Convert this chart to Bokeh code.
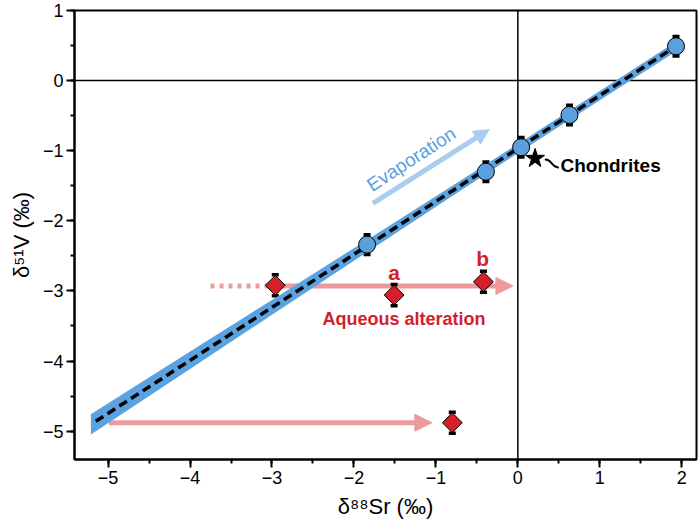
from bokeh.plotting import figure
from bokeh.models import (ColumnDataSource, Whisker, TeeHead, Arrow, NormalHead, Span,
                          FixedTicker, Range1d, Label, CustomJSTickFormatter)
from bokeh.embed import file_html
from bokeh.resources import INLINE

# ---------------- data ----------------
evap_sr = [-1.84, -0.39, 0.04, 0.63, 1.93]
evap_v = [-2.34, -1.30, -0.95, -0.49, 0.49]
evap_err = [0.14, 0.14, 0.14, 0.14, 0.14]

alt_sr = [-2.96, -1.51, -0.42, -0.80]
alt_v = [-2.92, -3.06, -2.87, -4.88]
alt_err = [0.15, 0.15, 0.15, 0.15]

chondrite_sr = [0.21]
chondrite_v = [-1.11]

fit_sr = [-5.15, 1.93]
fit_v = [-4.86, 0.49]

band_sr = [-5.21, -4.0, -3.0, -2.0, -1.0, 0.0, 1.0, 1.97]
band_lo = [-5.05, -4.115, -3.34, -2.57, -1.80, -1.035, -0.28, 0.447]
band_hi = [-4.76, -3.865, -3.13, -2.39, -1.65, -0.905, -0.15, 0.587]

# arrows: (x_start, y_start, x_end, y_end)
aq_dotted = (-3.75, -2.93, -2.96, -2.93)
aq_solid = (-2.96, -2.93, -0.06, -2.93)
aq_lower = (-4.99, -4.88, -1.05, -4.88)
evap_arrow = (-1.77, -1.75, -0.35, -0.70)

x_ticks = [-5, -4, -3, -2, -1, 0, 1, 2]
y_ticks = [-5, -4, -3, -2, -1, 0, 1]
x_minor = [-5.5, -5, -4.5, -4, -3.5, -3, -2.5, -2, -1.5, -1, -0.5, 0, 0.5, 1, 1.5, 2]
y_minor = [-5.5, -5, -4.5, -4, -3.5, -3, -2.5, -2, -1.5, -1, -0.5, 0, 0.5, 1]

# colours
BLUE = "#5AA2E0"
BLUE_PT = "#5B9FDD"
LIGHT_BLUE = "#A8CDEF"
PINK = "#EC9A9C"
RED = "#D3202A"
FONT = "Liberation Sans"

p = figure(width=700, height=521, output_backend="svg", toolbar_location=None,
           x_range=Range1d(-5.41, 2.18), y_range=Range1d(-5.405, 1.0),
           min_border_left=74, min_border_right=4, min_border_top=10, min_border_bottom=59)
p.grid.visible = False
p.outline_line_color = "black"
p.outline_line_width = 2
p.outline_line_alpha = 1
p.background_fill_color = "white"
p.border_fill_color = "white"

fmt = CustomJSTickFormatter(code="return tick < 0 ? '\u2212' + Math.abs(tick) : tick.toString();")
for ax, ticks, minor in ((p.xaxis, x_ticks, x_minor), (p.yaxis, y_ticks, y_minor)):
    ax.ticker = FixedTicker(ticks=ticks, minor_ticks=minor)
    ax.formatter = fmt
    ax.axis_line_width = 2
    ax.major_tick_line_width = 2
    ax.minor_tick_line_width = 2
    ax.major_tick_out = 8
    ax.major_tick_in = 0
    ax.minor_tick_out = 4
    ax.minor_tick_in = 0
    ax.major_label_text_font = FONT
    ax.major_label_text_font_size = "18px"
    ax.major_label_text_color = "black"
    ax.axis_label_text_font = FONT
    ax.axis_label_text_font_size = "22px"
    ax.axis_label_text_font_style = "normal"
    ax.axis_label_text_color = "black"
    ax.major_label_standoff = 3

p.xaxis.axis_label = "δ⁸⁸Sr (‰)"
p.yaxis.axis_label = "δ⁵¹V (‰)"
p.xaxis.axis_label_standoff = 7
p.yaxis.axis_label_standoff = 6

# zero lines
p.add_layout(Span(location=0, dimension="height", line_color="black", line_width=1.5, level="underlay"))
p.add_layout(Span(location=0, dimension="width", line_color="black", line_width=1.5, level="underlay"))

# aqueous alteration arrows
dx0, dy0, dx1, dy1 = aq_dotted
p.add_layout(Arrow(x_start=dx0, y_start=dy0, x_end=dx1, y_end=dy1, end=None,
                   line_color=PINK, line_width=5, line_dash="4 5", level="underlay"))
for (sx0, sy0, sx1, sy1) in (aq_solid, aq_lower):
    p.add_layout(Arrow(x_start=sx0, y_start=sy0, x_end=sx1, y_end=sy1,
                       end=NormalHead(size=17, fill_color=PINK, line_color=PINK, line_width=1),
                       line_color=PINK, line_width=5, level="underlay"))

# evaporation arrow
ex0, ey0, ex1, ey1 = evap_arrow
p.add_layout(Arrow(x_start=ex0, y_start=ey0, x_end=ex1, y_end=ey1,
                   end=NormalHead(size=15, fill_color=LIGHT_BLUE, line_color=LIGHT_BLUE, line_width=1),
                   line_color=LIGHT_BLUE, line_width=5))

# error bars
evap_src = ColumnDataSource(dict(x=evap_sr, y=evap_v,
                                 lo=[v - e for v, e in zip(evap_v, evap_err)],
                                 hi=[v + e for v, e in zip(evap_v, evap_err)]))
alt_src = ColumnDataSource(dict(x=alt_sr, y=alt_v,
                                lo=[v - e for v, e in zip(alt_v, alt_err)],
                                hi=[v + e for v, e in zip(alt_v, alt_err)]))
for src in (evap_src, alt_src):
    p.add_layout(Whisker(source=src, base="x", lower="lo", upper="hi", dimension="height",
                         line_color="black", line_width=2,
                         upper_head=TeeHead(size=7, line_width=3.5, line_color="black"),
                         lower_head=TeeHead(size=7, line_width=3.5, line_color="black"),
                         level="underlay"))

# confidence band and fit line
p.varea(x=band_sr, y1=band_lo, y2=band_hi, fill_color=BLUE, fill_alpha=1)
p.line(x=fit_sr, y=fit_v, line_color="black", line_width=3.5, line_dash="9 5")

# points
p.scatter(x="x", y="y", source=evap_src, marker="circle", size=17,
          fill_color=BLUE_PT, line_color="black", line_width=1)
p.scatter(x="x", y="y", source=alt_src, marker="square", size=14, angle=45, angle_units="deg",
          fill_color=RED, line_color="black", line_width=1)
p.scatter(x=chondrite_sr, y=chondrite_v, marker="star", size=20, fill_color="black", line_color="black")

# chondrite leader line
p.bezier(x0=[0.33], y0=[-1.13], x1=[0.50], y1=[-1.237], cx0=[0.40], cy0=[-1.10],
         cx1=[0.42], cy1=[-1.255], line_color="black", line_width=2)

# labels
p.add_layout(Label(x=0.52, y=-1.213, text="Chondrites", text_font=FONT, text_font_size="19px",
                   text_font_style="bold", text_color="black", text_align="left", text_baseline="middle"))
p.add_layout(Label(x=-1.30, y=-1.12, text="Evaporation", text_font=FONT, text_font_size="19px",
                   text_color=BLUE_PT, text_align="center", text_baseline="middle",
                   angle=33, angle_units="deg"))
p.add_layout(Label(x=-1.51, y=-2.74, text="a", text_font=FONT, text_font_size="21px",
                   text_font_style="bold", text_color=RED, text_align="center", text_baseline="middle"))
p.add_layout(Label(x=-0.43, y=-2.54, text="b", text_font=FONT, text_font_size="21px",
                   text_font_style="bold", text_color=RED, text_align="center", text_baseline="middle"))
p.add_layout(Label(x=-1.39, y=-3.40, text="Aqueous alteration", text_font=FONT, text_font_size="18px",
                   text_font_style="bold", text_color=RED, text_align="center", text_baseline="middle"))

open("out.html", "w").write(file_html(p, INLINE))
